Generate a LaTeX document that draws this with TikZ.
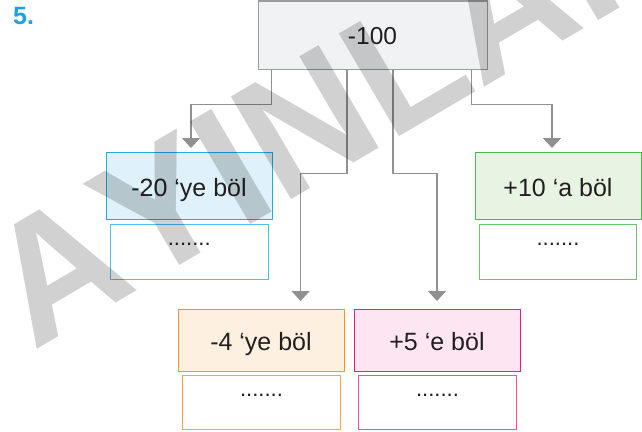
\documentclass[tikz,border=0pt]{standalone}
\usepackage{fontspec}
\setmainfont{Liberation Sans}
\newfontfamily\wmfont[Kerning=Off]{Liberation Sans}
\usetikzlibrary{arrows.meta}
\definecolor{txt}{HTML}{231F20}
\definecolor{numblue}{HTML}{1AA3E0}
\definecolor{linegray}{HTML}{909092}
\definecolor{topfill}{HTML}{F1F2F4}
\definecolor{topdraw}{HTML}{9C9C9E}
\definecolor{bluefill}{HTML}{DFF2FB}
\definecolor{bluedraw}{HTML}{27AAE1}
\definecolor{blueans}{HTML}{4DC0EE}
\definecolor{greenfill}{HTML}{E8F4E3}
\definecolor{greendraw}{HTML}{4DB748}
\definecolor{greenans}{HTML}{6CC56A}
\definecolor{orangefill}{HTML}{FEF0E1}
\definecolor{orangedraw}{HTML}{F7941D}
\definecolor{orangeans}{HTML}{F8A24A}
\definecolor{pinkfill}{HTML}{FDE6F1}
\definecolor{pinkdraw}{HTML}{EC1C8C}
\definecolor{pinkans}{HTML}{F04FA0}
\begin{document}
\begin{tikzpicture}[x=1pt,y=-1pt,
  box/.style={draw, line width=1pt, inner sep=0pt, minimum width=166pt,
    minimum height=67pt, text height=21.2pt, text depth=0pt,
    font=\fontsize{25}{29}\selectfont, text=txt},
  ans/.style={draw, line width=1pt, fill=white, inner sep=0pt, minimum width=157.5pt,
    text height=21pt, text depth=34pt, font=\fontsize{22}{26}\selectfont, text=txt},
  conn/.style={draw=linegray, line width=1.2pt,
    -{Triangle[width=18pt,length=10pt,fill=linegray]}},
  wmark/.style={font=\wmfont\bfseries\fontsize{173}{173}\selectfont, text=black,
    text opacity=0.18, inner sep=0pt}
]
\useasboundingbox (0,0) rectangle (642,431);
\fill[white] (0,0) rectangle (642,431);

\node[anchor=base west, inner sep=0pt, font=\bfseries\fontsize{25}{30}\selectfont,
  text=numblue] (num) at (13,24) {5.};

\node[box, fill=topfill, draw=topdraw, minimum width=229pt, minimum height=68pt,
  text height=18pt, font=\fontsize{24.5}{29}\selectfont] (top) at (372.5,35) {-100};

\node[box, fill=bluefill, draw=bluedraw] (blue) at (189,185.5) {-20 ‘ye böl};
\node[ans, draw=blueans] (blueA) at (189.25,251.5) {.......};

\node[box, fill=greenfill, draw=greendraw] (green) at (558,185.5) {+10 ‘a böl};
\node[ans, draw=greenans] (greenA) at (558,251.5) {.......};

\node[box, fill=orangefill, draw=orangedraw, minimum height=62pt] (orange) at (261,340) {-4 ‘ye böl};
\node[ans, draw=orangeans, text depth=33pt] (orangeA) at (261.5,402) {.......};

\node[box, fill=pinkfill, draw=pinkdraw, minimum height=62pt] (pink) at (437,340) {+5 ‘e böl};
\node[ans, draw=pinkans, text depth=33pt] (pinkA) at (437.5,402) {.......};

\draw[conn, shorten >=3.5pt] ([xshift=14pt]top.south west) -- ++(0,35)
  -| ([xshift=2pt]blue.north);
\draw[conn, shorten >=3.5pt] ([xshift=-16pt]top.south east) -- ++(0,35)
  -| ([xshift=-6pt]green.north);
\draw[conn, shorten >=7.5pt] ([xshift=-25.5pt]top.south) -- ++(0,104)
  -| ([xshift=39.6pt]orange.north);
\draw[conn, shorten >=7.5pt] ([xshift=20.5pt]top.south) -- ++(0,104)
  -| (pink.north);

\node[wmark, anchor=base west, rotate=30.4] (wm) at (-66.5,410.4) {YAYINLARI};
\end{tikzpicture}
\end{document}
